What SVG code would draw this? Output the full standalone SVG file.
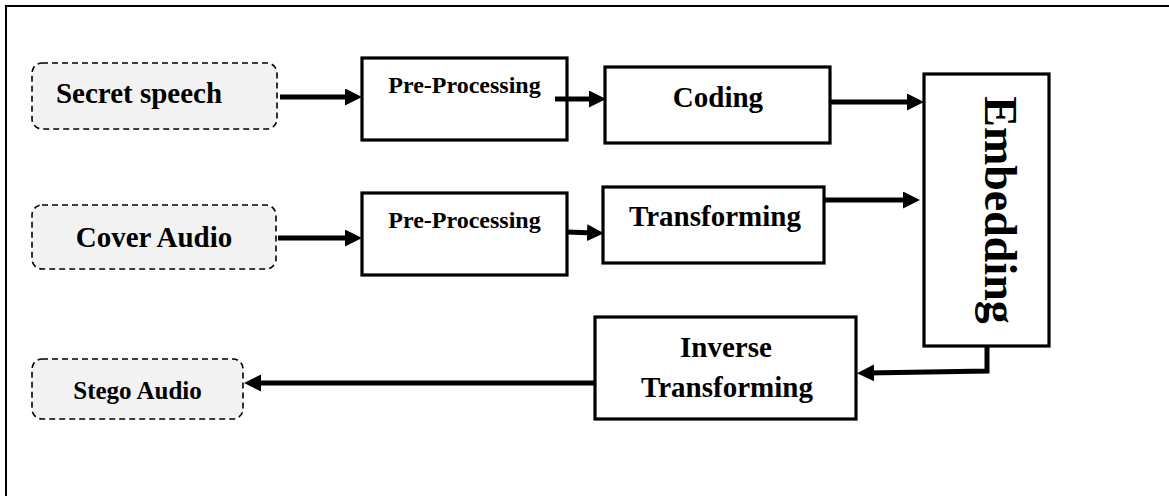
<svg xmlns="http://www.w3.org/2000/svg" width="1169" height="496" viewBox="0 0 1169 496">
  <style>
    .frame { fill: none; stroke: #000; stroke-width: 2; }
    .io { fill: #f2f2f2; stroke: #000; stroke-width: 1.6; stroke-dasharray: 6 4; }
    .blk { fill: #fff; stroke: #000; stroke-width: 3.2; }
    .lbl { font-family: "Liberation Serif", "Times New Roman", serif; font-weight: bold; fill: #000; text-anchor: middle; }
    .wire { fill: none; stroke: #000; stroke-width: 5; stroke-linejoin: miter; marker-end: url(#head); }
  </style>
  <defs>
    <marker id="head" markerUnits="userSpaceOnUse" markerWidth="18" markerHeight="18" refX="7" refY="8.5" orient="auto">
      <path d="M0,0 L17,8.5 L0,17 Z" fill="#000"/>
    </marker>
  </defs>

  <rect width="1169" height="496" fill="#fff"/>
  <!-- page frame (top and left edges) -->
  <path class="frame" d="M6,496 V6 H1169"/>

  <g id="secret-speech">
    <rect class="io" x="32" y="63" width="245" height="66" rx="10"/>
    <text class="lbl" x="139" y="103" font-size="29">Secret speech</text>
  </g>
  <g id="cover-audio">
    <rect class="io" x="32" y="205" width="244" height="64" rx="10"/>
    <text class="lbl" x="154" y="247" font-size="29">Cover Audio</text>
  </g>
  <g id="stego-audio">
    <rect class="io" x="32" y="359" width="211" height="60" rx="10"/>
    <text class="lbl" x="137.5" y="399" font-size="25">Stego Audio</text>
  </g>

  <g id="preprocessing-1">
    <rect class="blk" x="362" y="58" width="205" height="82"/>
    <text class="lbl" x="464.5" y="93" font-size="24">Pre-Processing</text>
  </g>
  <g id="preprocessing-2">
    <rect class="blk" x="362" y="193" width="205" height="82"/>
    <text class="lbl" x="464.5" y="228" font-size="24">Pre-Processing</text>
  </g>
  <g id="coding">
    <rect class="blk" x="605" y="67" width="225" height="76"/>
    <text class="lbl" x="718" y="107" font-size="29">Coding</text>
  </g>
  <g id="transforming">
    <rect class="blk" x="603" y="187" width="221" height="76"/>
    <text class="lbl" x="715" y="226" font-size="29">Transforming</text>
  </g>
  <g id="embedding">
    <rect class="blk" x="924" y="74" width="125" height="272"/>
    <text class="lbl" font-size="46" transform="translate(985,210) rotate(90)">Embedding</text>
  </g>
  <g id="inverse-transforming">
    <rect class="blk" x="595" y="317" width="261" height="102"/>
    <text class="lbl" x="726" y="357" font-size="29">Inverse</text>
    <text class="lbl" x="727" y="397" font-size="29">Transforming</text>
  </g>

  <g id="connectors">
    <path class="wire" d="M280,97 H352"/>
    <path class="wire" d="M555,99 H596"/>
    <path class="wire" d="M830,102 H914"/>
    <path class="wire" d="M278,238 H352"/>
    <path class="wire" d="M567,232 L594,233"/>
    <path class="wire" d="M824,200 H910"/>
    <path class="wire" d="M987,346 V371 L867,373"/>
    <path class="wire" d="M595,383 H254"/>
  </g>
</svg>
